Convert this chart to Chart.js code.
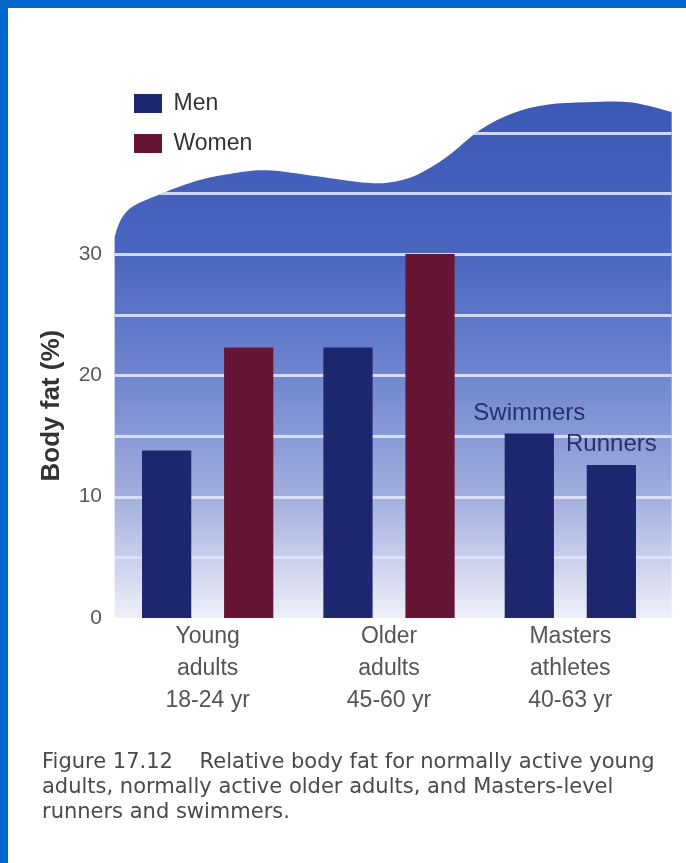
<!DOCTYPE html>
<html>
<head>
<meta charset="utf-8">
<title>Relative body fat</title>
<script src="https://cdn.jsdelivr.net/npm/chart.js@4/dist/chart.umd.min.js"></script>
<style>
  html, body { margin: 0; padding: 0; background: #fff; }
  #frame {
    width: 686px; height: 863px; box-sizing: border-box;
    border-top: 8px solid #0066cc; border-left: 8px solid #0066cc;
    background: #fff;
  }
  canvas { display: block; }
</style>
</head>
<body>
<div id="frame"><canvas id="chart" width="678" height="855"></canvas></div>
<script>
// ---- data ----
const categoryLabels = [
  ['Young', 'adults', '18-24 yr'],
  ['Older', 'adults', '45-60 yr'],
  ['Masters', 'athletes', '40-63 yr']
];
const firstBarValues  = [13.8, 22.3, 15.2];   // men; Masters group: swimmers
const secondBarValues = [22.3, 30.0, 12.6];   // women; Masters group: runners
const firstBarGroup   = ['Men', 'Men', 'Men'];
const secondBarGroup  = ['Women', 'Women', 'Men'];
const firstBarNotes   = ['', '', 'Swimmers'];
const secondBarNotes  = ['', '', 'Runners'];
const yTickLabels     = [0, 10, 20, 30];
const captionLines = [
  'Figure 17.12    Relative body fat for normally active young',
  'adults, normally active older adults, and Masters-level',
  'runners and swimmers.'
];

// wavy backdrop outline: x in category units, y in body-fat units
const backdropX = [-0.513, -0.440, -0.250, -0.044, 0.121, 0.325, 0.601, 0.850,
                   1.000, 1.150, 1.318, 1.500, 1.682, 1.870, 2.090, 2.328, 2.559];
const backdropY = [31.4, 33.6, 35.0, 36.1, 36.6, 36.9, 36.4, 35.9,
                   35.9, 36.5, 38.0, 40.2, 41.6, 42.3, 42.5, 42.5, 41.7];

// ---- styles ----
const groupColors = { Men: '#1d2770', Women: '#661634' };
const backdropStops = [[43, '#3b58b6'], [30, '#4a66bf'], [20, '#6f86cf'], [10, '#a3aede'], [4, '#d0d5ee'], [0, '#eef0f8']];
const SANS = "'Liberation Sans', Arial, Helvetica, sans-serif";

function colorFor(groups) {
  return (c) => groupColors[groups[c.dataIndex] ?? groups[0]];
}

// Catmull-Rom curve through pts; the first segment leaves the left edge going straight up
function smoothThrough(ctx, pts) {
  ctx.lineTo(pts[0].x, pts[0].y);
  const lead = { x: pts[0].x, y: pts[0].y + 20 };
  for (let i = 0; i < pts.length - 1; i++) {
    const p0 = i === 0 ? lead : pts[i - 1], p1 = pts[i], p2 = pts[i + 1], p3 = pts[i + 2] || p2;
    ctx.bezierCurveTo(
      p1.x + (p2.x - p0.x) / 6, p1.y + (p2.y - p0.y) / 6,
      p2.x - (p3.x - p1.x) / 6, p2.y - (p3.y - p1.y) / 6,
      p2.x, p2.y);
  }
}

// blue wave panel with light horizontal rules, drawn behind the bars
const backdropPlugin = {
  id: 'backdrop',
  beforeDatasetsDraw(chart) {
    const { ctx, scales: { x, y } } = chart;
    const pts = backdropX.map((u, i) => ({ x: x.getPixelForValue(u), y: y.getPixelForValue(backdropY[i]) }));
    const base = y.getPixelForValue(0);
    ctx.save();
    ctx.beginPath();
    ctx.moveTo(pts[0].x, base);
    smoothThrough(ctx, pts);
    ctx.lineTo(pts[pts.length - 1].x, base);
    ctx.closePath();
    const top = y.getPixelForValue(backdropStops[0][0]);
    const g = ctx.createLinearGradient(0, top, 0, base);
    backdropStops.forEach(([v, c]) => g.addColorStop((y.getPixelForValue(v) - top) / (base - top), c));
    ctx.fillStyle = g;
    ctx.fill();
    ctx.clip();
    ctx.strokeStyle = 'rgba(222,230,255,0.9)';
    ctx.lineWidth = 3;
    y.ticks.forEach(t => {
      if (t.value <= 0) return;
      const py = Math.round(y.getPixelForValue(t.value)) + 0.5;
      ctx.beginPath();
      ctx.moveTo(pts[0].x, py);
      ctx.lineTo(pts[pts.length - 1].x, py);
      ctx.stroke();
    });
    ctx.restore();
  }
};

// text notes above individual bars
const barNotesPlugin = {
  id: 'barNotes',
  afterDatasetsDraw(chart) {
    const { ctx } = chart;
    const notes = [firstBarNotes, secondBarNotes];
    ctx.save();
    ctx.font = '24px ' + SANS;
    ctx.fillStyle = '#28306a';
    ctx.textAlign = 'center';
    ctx.textBaseline = 'alphabetic';
    notes.forEach((list, di) => {
      chart.getDatasetMeta(di).data.forEach((bar, i) => {
        if (list[i]) ctx.fillText(list[i], bar.x, bar.y - 14);
      });
    });
    ctx.restore();
  }
};

// rotated y-axis caption
const yTitlePlugin = {
  id: 'yTitle',
  afterDraw(chart) {
    const { ctx, scales: { y } } = chart;
    ctx.save();
    ctx.translate(44, y.getPixelForValue(17.5));
    ctx.rotate(-Math.PI / 2);
    ctx.font = 'bold 26px ' + SANS;
    ctx.fillStyle = '#333';
    ctx.textAlign = 'center';
    ctx.textBaseline = 'middle';
    ctx.fillText('Body fat (%)', 0, 0);
    ctx.restore();
  }
};

new Chart(document.getElementById('chart'), {
  type: 'bar',
  data: {
    labels: categoryLabels,
    datasets: [
      { label: 'Men',   data: firstBarValues,  backgroundColor: colorFor(firstBarGroup),  borderWidth: 0 },
      { label: 'Women', data: secondBarValues, backgroundColor: colorFor(secondBarGroup), borderWidth: 0 }
    ]
  },
  options: {
    responsive: false,
    animation: false,
    devicePixelRatio: 1,
    categoryPercentage: 0.905,
    barPercentage: 0.6,
    layout: { padding: { top: 64, left: 34, right: 25, bottom: 0 } },
    plugins: {
      tooltip: { enabled: false },
      legend: {
        position: 'chartArea',
        align: 'start',
        // empty title used only as a spacer above the two legend rows
        title: { display: true, text: '', font: { size: 10, lineHeight: '67px' }, padding: 0 },
        labels: {
          boxWidth: 28, boxHeight: 19, padding: 17,
          color: '#333',
          font: { family: SANS, size: 23 }
        }
      },
      title: {
        display: true,
        position: 'bottom',
        align: 'start',
        text: captionLines,
        color: '#4a4a4a',
        font: { family: "'DejaVu Sans', Lato, sans-serif", size: 21, weight: 'normal', lineHeight: '25px' },
        padding: { top: 20, bottom: 38 }
      }
    },
    scales: {
      x: {
        grid: { display: false, drawTicks: false },
        border: { display: false },
        ticks: {
          padding: 3, maxRotation: 0, autoSkip: false,
          color: '#555',
          font: { family: SANS, size: 23, lineHeight: '32px' }
        },
        afterFit(scale) { scale.height = 112; }
      },
      y: {
        min: 0, max: 45,
        grid: { display: false, drawTicks: false },
        border: { display: false },
        ticks: {
          stepSize: 5, padding: 15,
          color: '#5a5a5a',
          font: { family: SANS, size: 21 },
          callback: (v) => yTickLabels.includes(v) ? String(v) : ''
        },
        afterFit(scale) { scale.width = 75; }
      }
    }
  },
  plugins: [backdropPlugin, barNotesPlugin, yTitlePlugin]
});
</script>
</body>
</html>
